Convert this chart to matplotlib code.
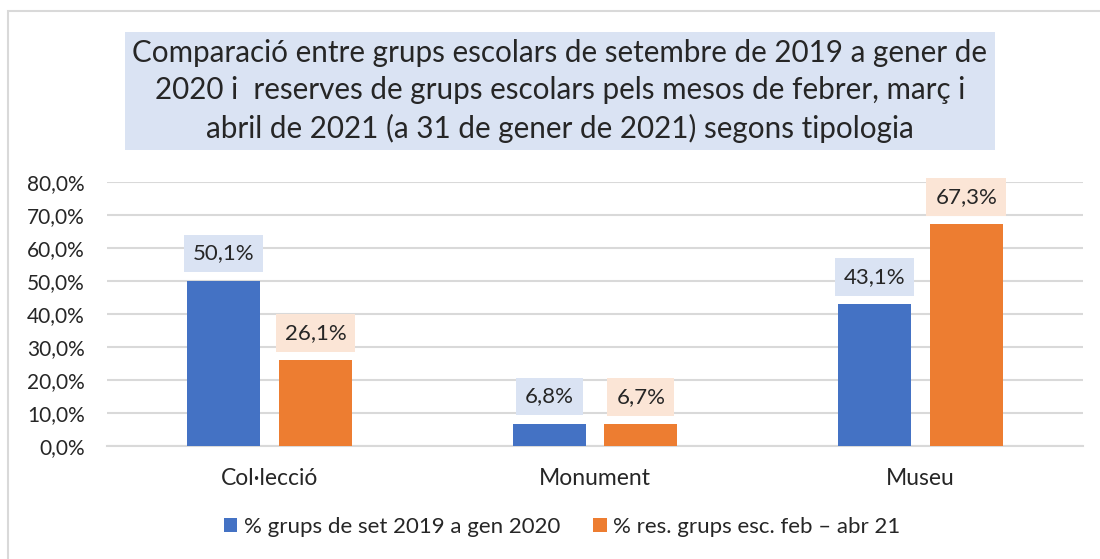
import matplotlib.pyplot as plt
from matplotlib.patches import Rectangle
import numpy as np

plt.rcParams['font.family'] = ['Lato', 'DejaVu Sans']

categories = ['Col·lecció', 'Monument', 'Museu']
grups_2019 = [50.1, 6.8, 43.1]
reserves_2021 = [26.1, 6.7, 67.3]
series_names = ['% grups de set 2019 a gen 2020', '% res. grups esc. feb – abr 21']
yticks = [0, 10, 20, 30, 40, 50, 60, 70, 80]

title = ('Comparació entre grups escolars de setembre de 2019 a gener de\n'
         '2020 i  reserves de grups escolars pels mesos de febrer, març i\n'
         'abril de 2021 (a 31 de gener de 2021) segons tipologia')

colors = ['#4472C4', '#ED7D31']
label_bg = ['#DAE3F3', '#FBE5D6']

fig = plt.figure(figsize=(11, 5.59), dpi=100)
W, H = 1100, 559

# chart frame
fig.patches.append(Rectangle((8 / W, -0.1), 1.2, 1 - 11 / H + 0.1, transform=fig.transFigure,
                             fill=False, edgecolor='#D9D9D9', linewidth=1.5))

ax = fig.add_axes([107 / W, 1 - 446 / H, (1083 - 107) / W, (446 - 182) / H])
ax.set_ylim(0, 80)
ax.set_xlim(-0.5, 2.5)

x = np.arange(len(categories))
w = 0.224
off = (w + 0.058) / 2
for i, vals in enumerate([grups_2019, reserves_2021]):
    pos = x + (-off if i == 0 else off)
    ax.bar(pos, vals, width=w, color=colors[i], label=series_names[i], zorder=3)
    for px, v in zip(pos, vals):
        ax.annotate(f'{v:.1f}%'.replace('.', ','), (px, v), xytext=(0, 19.5),
                    textcoords='offset points', ha='center', va='center', fontsize=16,
                    color='#262626',
                    bbox=dict(boxstyle='square,pad=0.4', facecolor=label_bg[i], edgecolor='none'))

ax.set_yticks(yticks)
ax.set_yticklabels([f'{t:.1f}%'.replace('.', ',') for t in yticks], fontsize=15, color='#262626')
ax.set_xticks(x)
ax.set_xticklabels(categories, fontsize=16.5, color='#262626')
ax.tick_params(axis='both', length=0)
ax.tick_params(axis='x', pad=16)
ax.tick_params(axis='y', pad=16)
ax.grid(axis='y', color='#D9D9D9', linewidth=1.5, zorder=0)
for s in ['top', 'right', 'left']:
    ax.spines[s].set_visible(False)
ax.spines['bottom'].set_color('#D9D9D9')
ax.spines['bottom'].set_linewidth(1.5)

fig.text(560 / W, 1 - 91 / H, title, ha='center', va='center', fontsize=21.3,
         color='#262626', linespacing=1.4,
         bbox=dict(boxstyle='square,pad=0.25', facecolor='#DAE3F3', edgecolor='none'))

fig.legend(loc='center', bbox_to_anchor=(562 / W, 1 - 527 / H), ncol=2, frameon=False,
           fontsize=16, handlelength=0.6, handleheight=0.6, handletextpad=0.3,
           columnspacing=1.5, labelcolor='#262626')

fig.savefig('out.png', dpi=100)
